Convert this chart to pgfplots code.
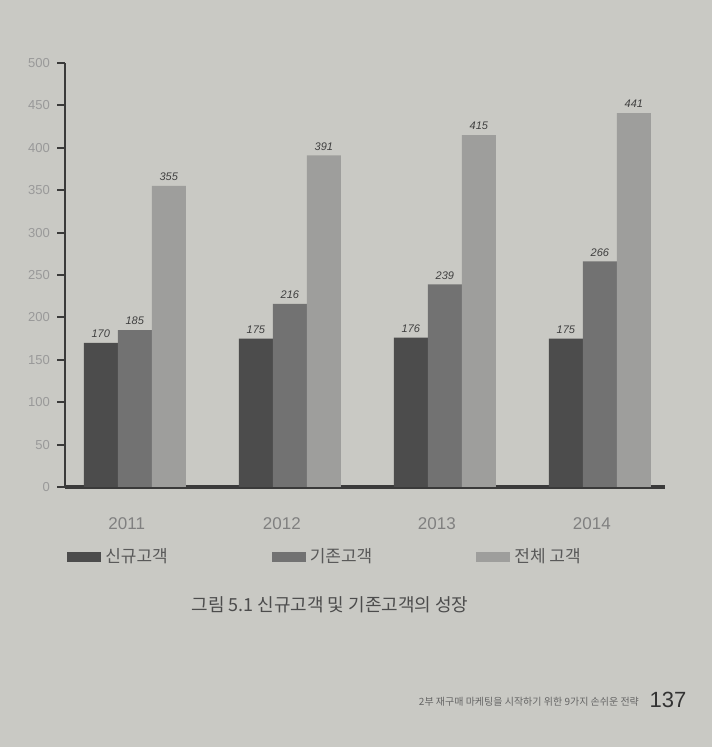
\documentclass[border=0pt]{standalone}
\usepackage{pgfplots}
\pgfplotsset{compat=1.18}
\usepackage{fontspec}
\setmainfont{Liberation Sans}
\newfontfamily\kr{Noto Sans CJK KR}
\definecolor{bg}{HTML}{C9C9C4}
\definecolor{c1}{HTML}{4C4C4C}
\definecolor{c2}{HTML}{727272}
\definecolor{c3}{HTML}{9E9E9C}
\definecolor{axc}{HTML}{3A3A3A}
\begin{document}
\begin{tikzpicture}
\fill[bg] (0pt,0pt) rectangle (356pt,373.5pt);
\begin{axis}[
  at={(32.5pt,130pt)}, anchor=south west,
  scale only axis, width=300pt, height=212pt,
  ybar=0pt, bar width=17pt,
  ymin=0, ymax=500, xmin=-0.45, xmax=3.42,
  axis x line*=bottom, axis y line*=left,
  x axis line style={line width=1.6pt, color=axc, -},
  y axis line style={line width=1pt, color=axc, -},
  ytick={0,50,...,500},
  y tick label style={font=\fontsize{6.5}{7}\selectfont, color=black!40},
  ytick style={line width=1pt, color=axc},
  tick align=outside, major tick length=4pt,
  xtick={0,1,2,3}, xticklabels={2011,2012,2013,2014},
  x tick style={draw=none},
  x tick label style={font=\fontsize{8.5}{9}\selectfont, color=black!50, yshift=-8pt, xshift=-4pt},
  /pgf/number format/assume math mode=true,
  nodes near coords,
  every node near coord/.append style={font=\fontsize{5.5}{6}\selectfont\itshape, color=black!75, yshift=-1pt},
  legend columns=3,
  legend style={draw=none, fill=none, at={(axis description cs:0.435,-0.125)}, anchor=north,
    font=\kr\fontsize{8.5}{9}\selectfont, text=black!65,
    /tikz/every even column/.append style={column sep=50pt}},
  legend image code/.code={\fill[#1] (0pt,-2.5pt) rectangle (17pt,2.5pt);},
]
\addplot[fill=c1, draw=none] coordinates {(0,170) (1,175) (2,176) (3,175)};
\addplot[fill=c2, draw=none] coordinates {(0,185) (1,216) (2,239) (3,266)};
\addplot[fill=c3, draw=none] coordinates {(0,355) (1,391) (2,415) (3,441)};
\legend{신규고객, 기존고객, 전체 고객}
\end{axis}
\node[font=\kr\fontsize{9}{10}\selectfont, text=black!70] at (165pt,71pt) {그림 5.1 신규고객 및 기존고객의 성장};
\node[font=\kr\fontsize{5}{6}\selectfont, text=black!60, anchor=east] at (323pt,22.5pt) {2부 재구매 마케팅을 시작하기 위한 9가지 손쉬운 전략};
\node[font=\fontsize{11}{12}\selectfont, text=black!80] at (334pt,23.5pt) {137};
\end{tikzpicture}
\end{document}
